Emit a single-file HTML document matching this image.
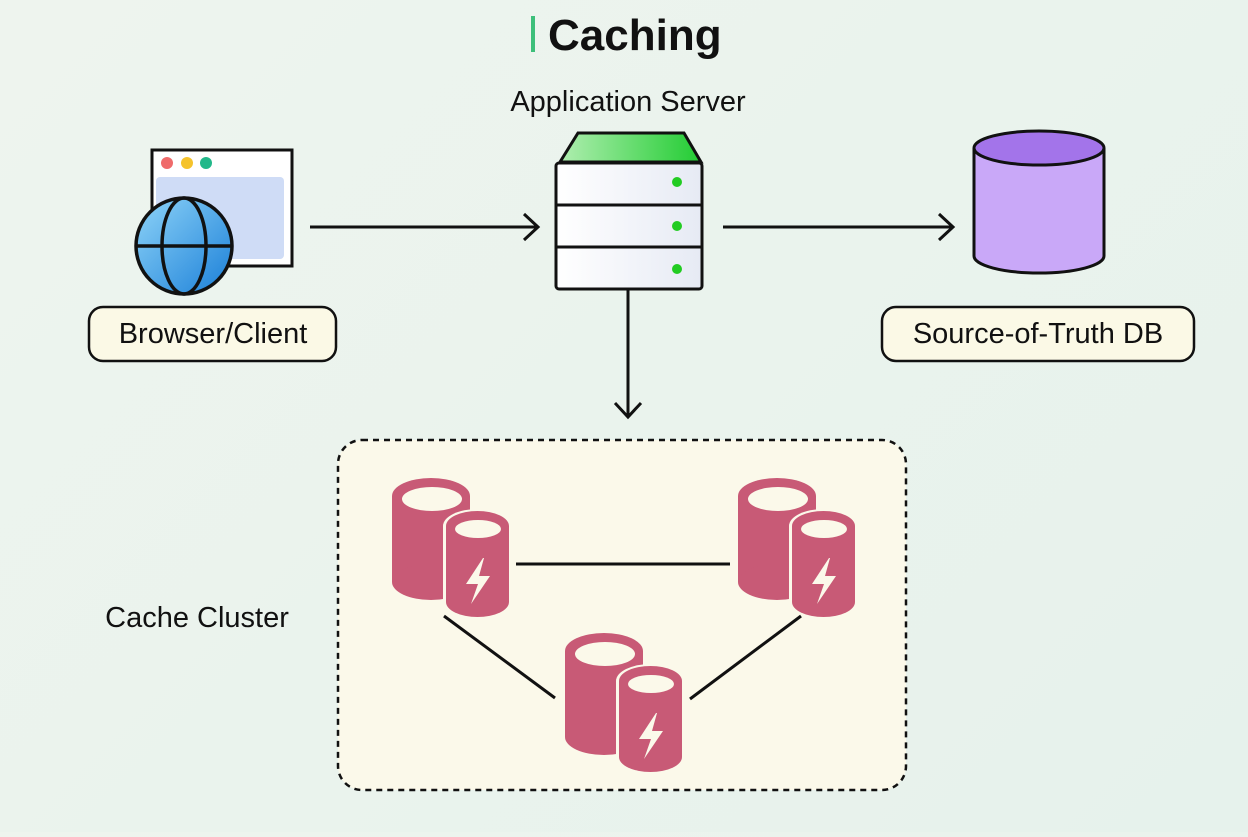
<!DOCTYPE html>
<html><head><meta charset="utf-8"><style>
body{margin:0;width:1248px;height:832px;overflow:hidden;background:linear-gradient(135deg,#eef4ee,#e6f2ec);font-family:"Liberation Sans",sans-serif}
</style></head><body>
<svg width="1248" height="832" viewBox="0 0 1248 832" xmlns="http://www.w3.org/2000/svg">
<defs>
<linearGradient id="gl" x1="0" y1="0" x2="1" y2="1"><stop offset="0" stop-color="#8fd4f8"/><stop offset="1" stop-color="#1a7fd8"/></linearGradient>
<linearGradient id="gg" x1="0" y1="0" x2="1" y2="0"><stop offset="0" stop-color="#b0eeb0"/><stop offset="1" stop-color="#22cc33"/></linearGradient>
<linearGradient id="gs" x1="0" y1="0" x2="1" y2="0"><stop offset="0" stop-color="#ffffff"/><stop offset="1" stop-color="#e6eaf4"/></linearGradient>
<g id="cache">
<rect x="0" y="18" width="78" height="86" fill="#c85a76"/>
<ellipse cx="39" cy="18" rx="39" ry="18" fill="#c85a76"/>
<ellipse cx="39" cy="104" rx="39" ry="18" fill="#c85a76"/>
<ellipse cx="40" cy="21" rx="30" ry="12" fill="#fbf9ea"/>
<rect x="51" y="48" width="69" height="76" fill="#fbf9ea"/>
<ellipse cx="85.5" cy="48" rx="34.5" ry="17" fill="#fbf9ea"/>
<ellipse cx="85.5" cy="124" rx="34.5" ry="17" fill="#fbf9ea"/>
<rect x="54" y="48" width="63" height="76" fill="#c85a76"/>
<ellipse cx="85.5" cy="48" rx="31.5" ry="15" fill="#c85a76"/>
<ellipse cx="85.5" cy="124" rx="31.5" ry="15" fill="#c85a76"/>
<ellipse cx="86" cy="51" rx="23" ry="9" fill="#fbf9ea"/>
<polygon points="91,80 74,106 86,106 79,126 98,98 87,98 92,80" fill="#fbf9ea"/>
</g>
</defs>
<rect x="531" y="16" width="4" height="36" fill="#3dbf7a"/>
<text x="548" y="50" font-size="44" font-weight="bold" fill="#111">Caching</text>
<text x="628" y="111" font-size="29" text-anchor="middle" fill="#111">Application Server</text>
<!-- browser -->
<rect x="152" y="150" width="140" height="116" fill="#fff" stroke="#111" stroke-width="3"/>
<circle cx="167" cy="163" r="6" fill="#ef6b6b"/><circle cx="187" cy="163" r="6" fill="#f5c32c"/><circle cx="206" cy="163" r="6" fill="#22b88a"/>
<rect x="156" y="177" width="128" height="82" rx="4" fill="#cfdcf6"/>
<circle cx="184" cy="246" r="48" fill="url(#gl)" stroke="#111" stroke-width="3.5"/>
<ellipse cx="184" cy="246" rx="22" ry="48" fill="none" stroke="#111" stroke-width="3.5"/>
<line x1="136" y1="246" x2="232" y2="246" stroke="#111" stroke-width="3.5"/>
<rect x="89" y="307" width="247" height="54" rx="14" fill="#fbf9e6" stroke="#111" stroke-width="2.5"/>
<text x="213" y="343" font-size="29" text-anchor="middle" fill="#111">Browser/Client</text>
<!-- arrows -->
<g stroke="#111" stroke-width="3" fill="none">
<line x1="310" y1="227" x2="538" y2="227"/><polyline points="524,214 538,227 524,240"/>
<line x1="723" y1="227" x2="953" y2="227"/><polyline points="939,214 953,227 939,240"/>
<line x1="628" y1="290" x2="628" y2="416"/><polyline points="615,403 628,417 641,403"/>
</g>
<!-- server -->
<polygon points="560,162 578,133 684,133 701,162" fill="url(#gg)" stroke="#111" stroke-width="3"/>
<rect x="556" y="163" width="146" height="126" rx="3" fill="url(#gs)" stroke="#111" stroke-width="3"/>
<line x1="556" y1="205" x2="702" y2="205" stroke="#111" stroke-width="3"/>
<line x1="556" y1="247" x2="702" y2="247" stroke="#111" stroke-width="3"/>
<circle cx="677" cy="182" r="5" fill="#22cc22"/><circle cx="677" cy="226" r="5" fill="#22cc22"/><circle cx="677" cy="269" r="5" fill="#22cc22"/>
<!-- db -->
<path d="M974,148 L974,256 A65,17 0 0 0 1104,256 L1104,148" fill="#c9a8f8" stroke="#111" stroke-width="3"/>
<ellipse cx="1039" cy="148" rx="65" ry="17" fill="#a374ea" stroke="#111" stroke-width="3"/>
<rect x="882" y="307" width="312" height="54" rx="14" fill="#fbf9e6" stroke="#111" stroke-width="2.5"/>
<text x="1038" y="343" font-size="29" text-anchor="middle" fill="#111">Source-of-Truth DB</text>
<!-- cluster -->
<rect x="338" y="440" width="568" height="350" rx="24" fill="#fbf9ea" stroke="#111" stroke-width="2.5" stroke-dasharray="6,5"/>
<text x="197" y="627" font-size="29" text-anchor="middle" fill="#111">Cache Cluster</text>
<g stroke="#111" stroke-width="3">
<line x1="516" y1="564" x2="730" y2="564"/>
<line x1="444" y1="616" x2="555" y2="698"/>
<line x1="801" y1="616" x2="690" y2="699"/>
</g>
<use href="#cache" x="392" y="478"/>
<use href="#cache" x="738" y="478"/>
<use href="#cache" x="565" y="633"/>
</svg>
</body></html>
